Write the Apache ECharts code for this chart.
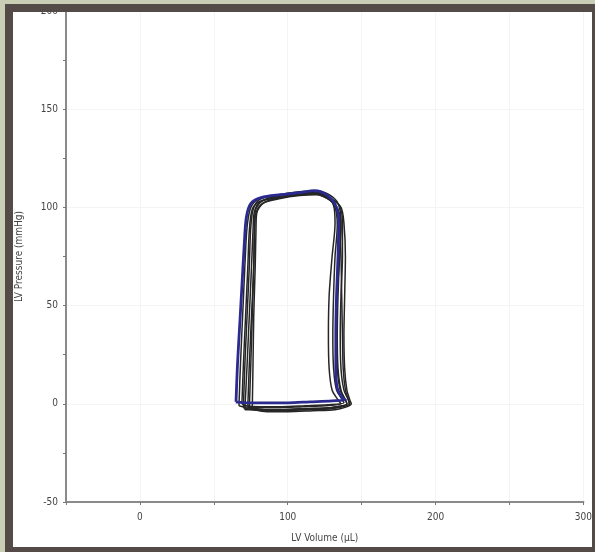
<!DOCTYPE html>
<html><head><meta charset="utf-8">
<script src="https://cdn.jsdelivr.net/npm/echarts@6/dist/echarts.min.js"></script>
<style>html,body{margin:0;padding:0;background:#fff}#c{width:595px;height:552px}</style>
</head><body><div id="c"></div>
<script>
// Tick labels
const xTicks = [0, 100, 200, 300];
const yTicks = [-50, 0, 50, 100, 150, 200];

// PV loops: [volume µL, pressure mmHg]
const loopBlack1 = [[67,-1],[68,20],[69.5,45],[71,70],[72.5,90],[75,100],[80,104],[92,106],[106,107.5],[117,108],[126,106],[131,101],[132,92],[130,75],[128,55],[127.5,35],[128,18],[130,7],[134,2],[136,0],[125,-1],[110,-1.5],[95,-2],[80,-2],[70,-1.5],[67,-1]];
const loopBlack2 = [[70,-2],[71,20],[72.5,45],[74,70],[75,90],[77,100],[82,104.5],[94,106.5],[108,108],[119,108.5],[128,106.5],[134,102],[136,93],[135,75],[134,55],[133.5,35],[134,18],[136,7],[139,2],[140,0],[128,-2],[112,-2.5],[96,-3],[82,-3],[73,-2.5],[70,-2]];
const loopBlack3 = [[73,-1],[74,20],[75.5,45],[77,70],[77.5,88],[78,98],[83,103.5],[95,106],[108,107],[118,107.5],[128,105],[135,101],[137,92],[137,75],[136,55],[135.5,35],[136,18],[138,7],[141,2],[142,0],[130,-2],[115,-2.5],[98,-3],[84,-3],[76,-2],[73,-1]];
const loopBlack4 = [[76,-2],[76.5,20],[77,45],[78,70],[78.5,88],[79,97],[84,102.5],[96,105],[109,106.5],[120,107],[129,104.5],[136,100],[138,92],[139,75],[138.5,55],[138,35],[138.5,18],[140,7],[142,2],[143,0],[132,-3],[117,-3.5],[100,-4],[86,-4],[78,-3],[76,-2]];
const loopBlack5 = [[69,0],[70,20],[71.5,45],[73,70],[74,88],[76,99],[81,103],[93,105.5],[107,107],[118,107.5],[127,105],[132,100],[133.5,91],[132,75],[131,55],[130.5,35],[131,18],[133,7],[137,2],[138,0.5],[127,-0.5],[112,-1],[96,-1.5],[81,-1.5],[72,-1],[69,0]];
const loopBlack6 = [[71,-3],[72.5,20],[74,45],[75.5,70],[76.5,88],[77.5,98],[82,103],[94,105],[107,106.5],[118,107],[127,104.5],[133,100],[135,92],[136,75],[136.5,55],[137,35],[137.5,18],[139,7],[141,2],[141.5,0],[130,-2.5],[114,-3],[98,-3.5],[83,-3.5],[74,-3],[71,-3]];
const loopBlack7 = [[74,-2.5],[75,20],[76,45],[77,70],[77.5,88],[78.5,97],[83,102],[95,104.5],[108,106],[119,106.5],[128,104],[134,99],[136,90],[135,75],[133.5,55],[133,35],[133.5,18],[135.5,7],[139,2],[140,0],[129,-2],[113,-2.5],[97,-3],[84,-3],[77,-2.5],[74,-2.5]];
const loopBlue = [[65,1],[66,20],[67.5,40],[69,60],[70.5,80],[72,95],[75,102],[82,105],[95,106.5],[108,107.5],[118,108.5],[127,106],[133,100],[134.5,92],[134,75],[133,55],[132.5,35],[132.5,18],[133.5,8],[137,3],[139,2],[130,1.5],[115,1],[100,0.5],[85,0.5],[72,0.5],[66,0.8],[65,1]];

const blackLoops = [loopBlack1, loopBlack2, loopBlack3, loopBlack4, loopBlack5, loopBlack6, loopBlack7];

const chart = echarts.init(document.getElementById('c'), null, {renderer: 'canvas'});
const font = '"DejaVu Sans Condensed","Liberation Sans Narrow",sans-serif';
const series = blackLoops.map(d => ({
  type: 'line', data: d, showSymbol: false, smooth: 0.3,
  lineStyle: {color: '#262626', width: 1.5}, z: 2
}));
series.push({
  type: 'line', data: loopBlue, showSymbol: false, smooth: 0.3,
  lineStyle: {color: '#2a2a90', width: 2.8}, z: 3
});

chart.setOption({
  animation: false,
  backgroundColor: '#fff',
  grid: {left: 66, right: 2, top: 11, bottom: 50, containLabel: false},
  xAxis: {
    type: 'value', min: -50, max: 300, interval: 50,
    name: 'LV Volume (µL)', nameLocation: 'middle', nameGap: 31,
    nameTextStyle: {fontFamily: font, fontSize: 10, color: '#444'},
    axisLine: {onZero: false, lineStyle: {color: '#8a8a8a', width: 2}},
    axisTick: {show: true, length: 3, lineStyle: {color: '#777'}},
    axisLabel: {
      fontFamily: font, fontSize: 10, color: '#444', margin: 10,
      formatter: v => xTicks.includes(v) ? String(v) : ''
    },
    splitLine: {show: true, lineStyle: {color: '#f4f4f4'}}
  },
  yAxis: {
    type: 'value', min: -50, max: 200, interval: 50,
    name: 'LV Pressure (mmHg)', nameLocation: 'middle', nameGap: 42, nameRotate: 90,
    nameTextStyle: {fontFamily: font, fontSize: 10, color: '#444'},
    axisLine: {show: true, onZero: false, lineStyle: {color: '#8a8a8a', width: 2}},
    axisTick: {show: true, length: 3, lineStyle: {color: '#777'}},
    minorTick: {show: true, splitNumber: 2, length: 3, lineStyle: {color: '#777'}},
    axisLabel: {
      fontFamily: font, fontSize: 10, color: '#444', margin: 8,
      formatter: v => yTicks.includes(v) ? String(v) : ''
    },
    splitLine: {show: true, lineStyle: {color: '#f4f4f4'}}
  },
  series: series,
  graphic: [
    {type: 'rect', z: 100, shape: {x: 0, y: 0, width: 595, height: 4}, style: {fill: '#c9ceb5'}},
    {type: 'rect', z: 100, shape: {x: 0, y: 0, width: 5, height: 552}, style: {fill: '#c9ceb5'}},
    {type: 'rect', z: 101, shape: {x: 5, y: 4, width: 590, height: 8}, style: {fill: '#544a48'}},
    {type: 'rect', z: 101, shape: {x: 5, y: 4, width: 8, height: 548}, style: {fill: '#544a48'}},
    {type: 'rect', z: 101, shape: {x: 592, y: 4, width: 3, height: 548}, style: {fill: '#544a48'}},
    {type: 'rect', z: 101, shape: {x: 5, y: 547, width: 590, height: 5}, style: {fill: '#544a48'}}
  ]
});
</script></body></html>
